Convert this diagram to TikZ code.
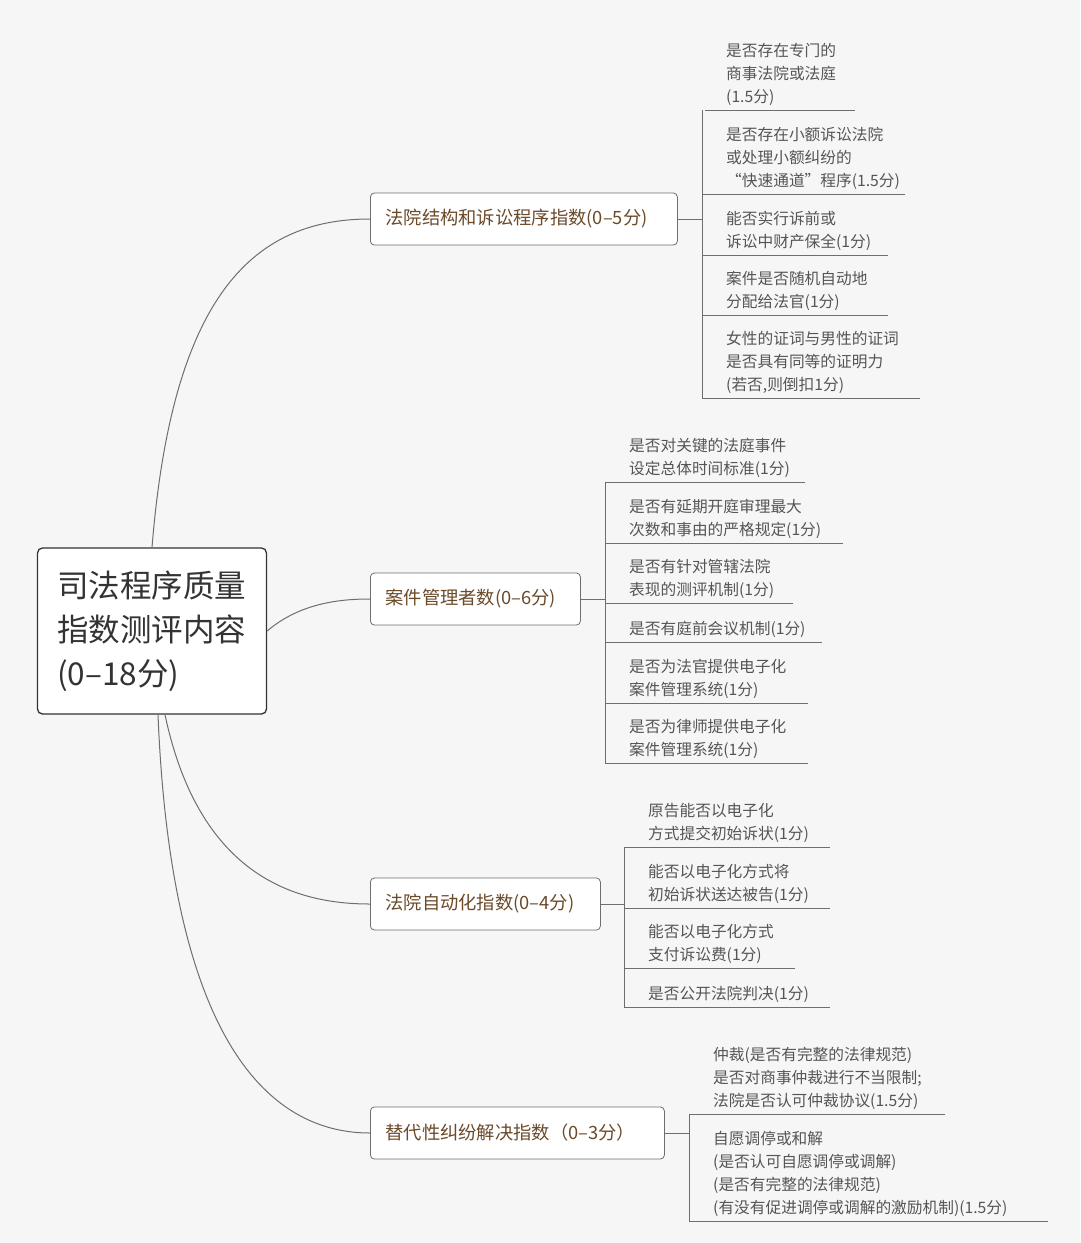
\documentclass[tikz,border=0pt]{standalone}
\usepackage{fontspec}
\setmainfont{Noto Sans CJK SC}
\definecolor{bg_gray}{HTML}{F6F6F6}
\definecolor{line_gray}{HTML}{6E6E6E}
\definecolor{branch_brown}{HTML}{6B4A2A}
\definecolor{leaf_gray}{HTML}{555555}
\tikzset{
  rootbox/.style={draw=black!80,line width=1.3pt,rounded corners=5pt,fill=white,
    minimum width=229pt,minimum height=166pt},
  roottext/.style={anchor=west,align=left,font=\fontsize{31.5}{44}\selectfont,text=black!80,inner sep=0pt},
  branchbox/.style={draw=line_gray,line width=0.8pt,rounded corners=4pt,fill=white,
    font=\fontsize{18.3}{20}\selectfont,text=branch_brown,inner sep=0pt,minimum height=52pt,anchor=west,
    text width=#1,align=left},
  leaf/.style={anchor=south west,inner sep=0pt,align=left,font=\fontsize{15.7}{23}\selectfont,text=leaf_gray},
  uline/.style={draw=line_gray,line width=0.7pt},
  limb/.style={draw=line_gray,line width=1pt}
}
\begin{document}
\begin{tikzpicture}[x=1pt,y=-1pt]
    \fill[bg_gray] (0,0) rectangle (1080,1243);
    \useasboundingbox (0,0) rectangle (1080,1243);
    % root
    \node[rootbox] (root) at (152,631) {};
    \node[roottext] (rootlabel) at (57,631) {司法程序质量\\指数测评内容\\(0–18分)};
    % branches
    \node[branchbox=307pt] (b1) at (370,219) {\hspace*{15pt}法院结构和诉讼程序指数(0–5分)};
    \node[branchbox=210pt] (b2) at (370,599) {\hspace*{15pt}案件管理者数(0–6分)};
    \node[branchbox=230pt] (b3) at (370,904) {\hspace*{15pt}法院自动化指数(0–4分)};
    \node[branchbox=294pt] (b4) at (370,1133) {\hspace*{15pt}替代性纠纷解决指数（0–3分）};
    \draw[limb] (root.north) .. controls (172,300) and (250,219) .. (b1.west);
    \draw[limb] (root.east) .. controls (300,603) and (340,599) .. (b2.west);
    \draw[limb] ([xshift=13pt]root.south) .. controls (200,880) and (300,904) .. (b3.west);
    \draw[limb] ([xshift=6pt]root.south) .. controls (172,1060) and (280,1133) .. (b4.west);
    % leaves of b1
    \coordinate (s1) at (702,219);
    \draw[uline] (b1.east) -- (s1);
    \draw[uline] (702,110) -- (702,398);
    \node[leaf] (a1) at (726,106) {是否存在专门的\\商事法院或法庭\\(1.5分)};
    \node[leaf] (a2) at (726,190) {是否存在小额诉讼法院\\或处理小额纠纷的\\“快速通道”程序(1.5分)};
    \node[leaf] (a3) at (726,251) {能否实行诉前或\\诉讼中财产保全(1分)};
    \node[leaf] (a4) at (726,311) {案件是否随机自动地\\分配给法官(1分)};
    \node[leaf] (a5) at (726,394) {女性的证词与男性的证词\\是否具有同等的证明力\\(若否,则倒扣1分)};
    \draw[uline] (705,110) -- (855,110);
    \draw[uline] (702,194) -- (905,194);
    \draw[uline] (702,255) -- (888,255);
    \draw[uline] (702,315) -- (888,315);
    \draw[uline] (702,398) -- (920,398);
    % leaves of b2
    \coordinate (s2) at (605,599);
    \draw[uline] (b2.east) -- (s2);
    \draw[uline] (605,482) -- (605,763);
    \node[leaf] (c1) at (629,478) {是否对关键的法庭事件\\设定总体时间标准(1分)};
    \node[leaf] (c2) at (629,539) {是否有延期开庭审理最大\\次数和事由的严格规定(1分)};
    \node[leaf] (c3) at (629,599) {是否有针对管辖法院\\表现的测评机制(1分)};
    \node[leaf] (c4) at (629,638) {是否有庭前会议机制(1分)};
    \node[leaf] (c5) at (629,699) {是否为法官提供电子化\\案件管理系统(1分)};
    \node[leaf] (c6) at (629,759) {是否为律师提供电子化\\案件管理系统(1分)};
    \draw[uline] (605,482) -- (805,482);
    \draw[uline] (605,543) -- (843,543);
    \draw[uline] (605,603) -- (793,603);
    \draw[uline] (605,642) -- (822,642);
    \draw[uline] (605,703) -- (808,703);
    \draw[uline] (605,763) -- (808,763);
    % leaves of b3
    \coordinate (s3) at (624,904);
    \draw[uline] (b3.east) -- (s3);
    \draw[uline] (624,847) -- (624,1007);
    \node[leaf] (d1) at (648,843) {原告能否以电子化\\方式提交初始诉状(1分)};
    \node[leaf] (d2) at (648,904) {能否以电子化方式将\\初始诉状送达被告(1分)};
    \node[leaf] (d3) at (648,964) {能否以电子化方式\\支付诉讼费(1分)};
    \node[leaf] (d4) at (648,1003) {是否公开法院判决(1分)};
    \draw[uline] (624,847) -- (830,847);
    \draw[uline] (624,908) -- (830,908);
    \draw[uline] (624,968) -- (795,968);
    \draw[uline] (624,1007) -- (830,1007);
    % leaves of b4
    \coordinate (s4) at (689,1133);
    \draw[uline] (b4.east) -- (s4);
    \draw[uline] (689,1114) -- (689,1221);
    \node[leaf] (e1) at (713,1110) {仲裁(是否有完整的法律规范)\\是否对商事仲裁进行不当限制;\\法院是否认可仲裁协议(1.5分)};
    \node[leaf] (e2) at (713,1217) {自愿调停或和解\\(是否认可自愿调停或调解)\\(是否有完整的法律规范)\\(有没有促进调停或调解的激励机制)(1.5分)};
    \draw[uline] (689,1114) -- (945,1114);
    \draw[uline] (689,1221) -- (1048,1221);
\end{tikzpicture}
\end{document}
